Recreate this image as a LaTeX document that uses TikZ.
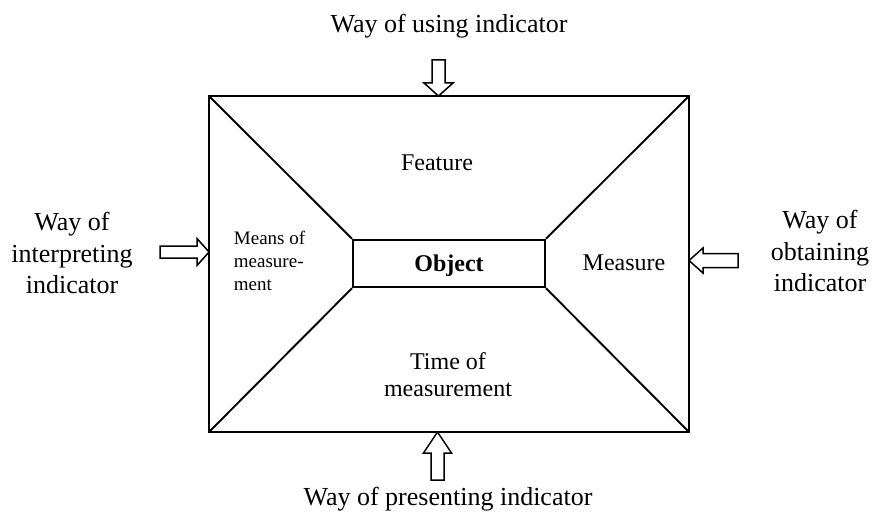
\documentclass[tikz,border=0pt]{standalone}
\usepackage{fontspec}
\setmainfont{Liberation Serif}

\tikzset{
    bigtext/.style = {font = \fontsize{26}{31.5}\selectfont},
    midtext/.style = {font = \fontsize{24}{27}\selectfont},
    smalltext/.style = {font = \fontsize{19}{23}\selectfont},
    blockarrow/.style = {line width = 1.5pt, line join = miter, fill = white}
}

\begin{document}
\begin{tikzpicture}[x = 1pt, y = -1pt, align = center, line width = 1.9pt]
        \useasboundingbox (0, 0) rectangle (876, 519);

        \coordinate (tl) at (209, 96);
        \coordinate (br) at (689, 432);
        \draw (tl) rectangle (br);

        \node[draw, minimum width = 192pt, minimum height = 47.5pt, inner sep = 0pt, text depth = 0pt, midtext]
            (object) at (449, 263.5) {\bfseries Object};

        \draw (tl) -- (object.north west);
        \draw (689, 96) -- (object.north east);
        \draw (br) -- (object.south east);
        \draw (209, 432) -- (object.south west);

        \node[midtext, anchor = base] (feature) at (437, 170) {Feature};
        \node[midtext, anchor = base] (measure) at (624, 270) {Measure};
        \node[midtext] (time) at (448, 375) {Time of \\ measurement};
        \node[smalltext, anchor = west, align = left, inner sep = 0pt] (means) at (233, 261) {Means of \\ measure- \\ ment};

        \node[bigtext, anchor = base] (using) at (449, 33) {Way of using indicator};
        \node[bigtext, anchor = base] (presenting) at (448, 505) {Way of presenting indicator};
        \node[bigtext] (interpreting) at (72, 253) {Way of \\ interpreting \\ indicator};
        \node[bigtext] (obtaining) at (820, 251) {Way of \\ obtaining \\ indicator};

        \draw[blockarrow] (438.5, 96) -- (424, 83) -- (432, 83) -- (432, 60) -- (445, 60) -- (445, 83) -- (453, 83) -- cycle;
        \draw[blockarrow] (437.5, 432) -- (423.5, 453) -- (431, 453) -- (431, 480) -- (444, 480) -- (444, 453) -- (451.5, 453) -- cycle;
        \draw[blockarrow] (209, 252) -- (197, 238.5) -- (197, 246) -- (160, 246) -- (160, 258) -- (197, 258) -- (197, 265.5) -- cycle;
        \draw[blockarrow] (689, 260.5) -- (703, 248) -- (703, 253.5) -- (738, 253.5) -- (738, 267.5) -- (703, 267.5) -- (703, 273) -- cycle;
    \end{tikzpicture}
\end{document}
